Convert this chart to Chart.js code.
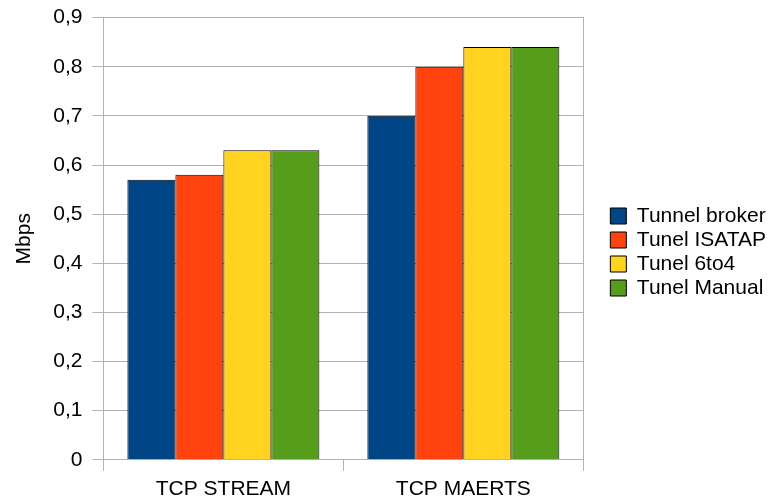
<!DOCTYPE html>
<html><head><meta charset="utf-8">
<script src="https://cdn.jsdelivr.net/npm/chart.js@4"></script>
<style>html,body{margin:0;padding:0;background:#fff}#wrap{width:782px;height:504px}</style>
</head><body><div id="wrap"><canvas id="c" width="782" height="504"></canvas></div>
<script>
const categories = ["TCP STREAM", "TCP MAERTS"];
const seriesNames = ["Tunnel broker", "Tunel ISATAP", "Tunel 6to4", "Tunel Manual"];
const tunnelBroker = [0.57, 0.70];
const tunelIsatap = [0.58, 0.80];
const tunel6to4 = [0.63, 0.84];
const tunelManual = [0.63, 0.84];
const yTicks = [0, 0.1, 0.2, 0.3, 0.4, 0.5, 0.6, 0.7, 0.8, 0.9];
const colors = ["#004586", "#ff420e", "#ffd320", "#579d1c"];

const FONT = "'Liberation Sans', Arial, sans-serif";
const FS = 21;
const values = [tunnelBroker, tunelIsatap, tunel6to4, tunelManual];
Chart.defaults.font.family = FONT;
Chart.defaults.font.size = FS;
Chart.defaults.color = "#000";

new Chart(document.getElementById('c'), {
  type: 'bar',
  data: {
    labels: categories,
    datasets: seriesNames.map((n, i) => ({
      label: n, data: values[i], backgroundColor: colors[i],
      borderColor: "#000", borderWidth: 1,
      categoryPercentage: 0.8, barPercentage: 1.0
    }))
  },
  options: {
    responsive: false, animation: false,
    layout: { padding: { left: 6, right: 6, top: 0, bottom: 0 } },
    plugins: {
      tooltip: { enabled: false },
      legend: {
        position: 'right', maxWidth: 300,
        labels: { boxWidth: 16, boxHeight: 16, padding: 3, color: "#000", font: { size: FS } }
      }
    },
    scales: {
      x: {
        grid: { drawOnChartArea: false, drawTicks: true, tickLength: 11, color: "#b3b3b3", offset: true },
        border: { color: "#b3b3b3" },
        ticks: { padding: 6, font: { size: FS }, color: "#000" },
        afterFit: (s) => { s.height -= 4; }
      },
      y: {
        min: 0, max: 0.9,
        afterBuildTicks: (s) => { s.ticks = yTicks.map(v => ({ value: v })); },
        grid: { color: "#b3b3b3", tickLength: 11 },
        border: { color: "#b3b3b3" },
        ticks: { padding: 10, font: { size: FS }, color: "#000",
          callback: (v) => String(Math.round(v * 10) / 10).replace('.', ',') },
        title: { display: true, text: "Mbps", font: { size: FS }, color: "#000", padding: 6 },
        afterFit: (s) => { s.paddingTop = Math.max(0, s.paddingTop - 5); }
      },
      y2: {
        position: 'right', min: 0, max: 0.9,
        grid: { drawOnChartArea: false, drawTicks: false },
        border: { color: "#b3b3b3" },
        ticks: { display: false },
        afterFit: (s) => { s.width = 24; s.paddingTop = 0; }
      }
    }
  }
});
</script></body></html>
